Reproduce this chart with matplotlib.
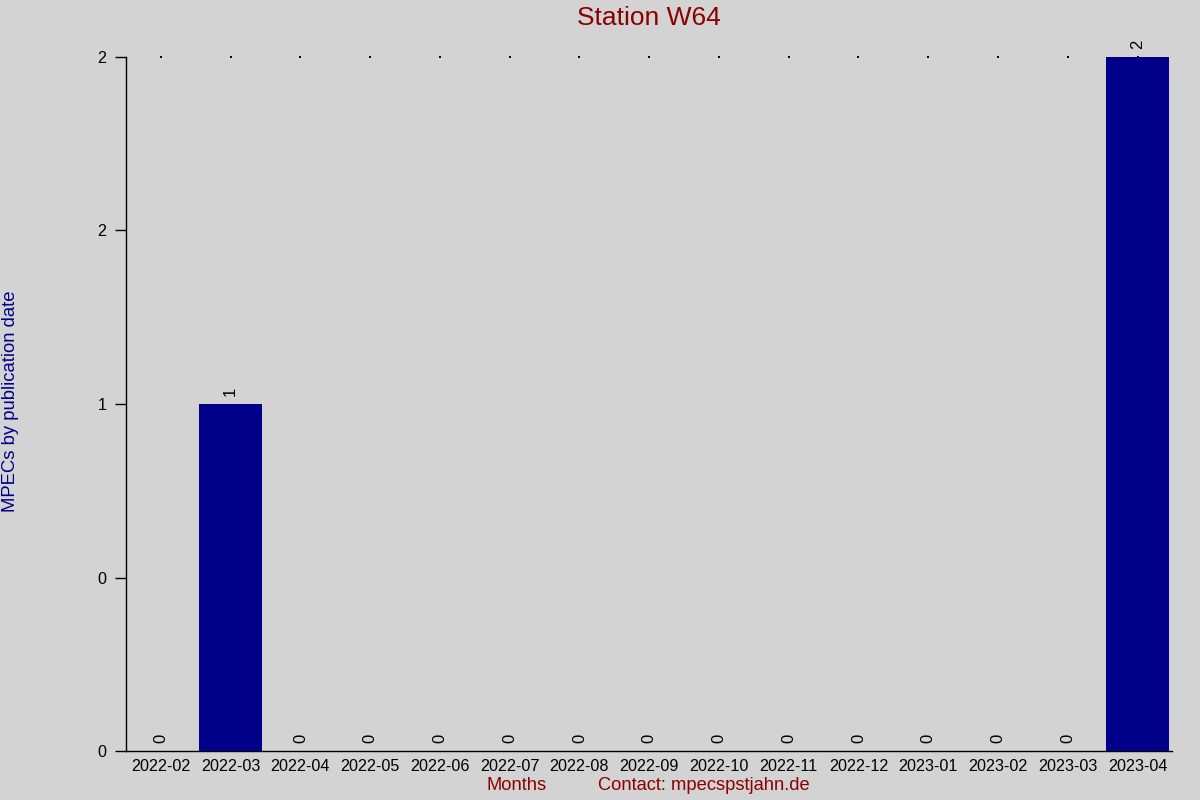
import matplotlib
matplotlib.use("Agg")
import matplotlib.pyplot as plt

months = ["2022-02", "2022-03", "2022-04", "2022-05", "2022-06", "2022-07", "2022-08",
          "2022-09", "2022-10", "2022-11", "2022-12", "2023-01", "2023-02", "2023-03", "2023-04"]
counts = [0, 1, 0, 0, 0, 0, 0, 0, 0, 0, 0, 0, 0, 0, 2]
ytick_vals = [0, 0.5, 1, 1.5, 2]
ytick_labels = ["0", "0", "1", "2", "2"]

plt.rcParams['font.family'] = ['Liberation Sans', 'DejaVu Sans']
bg = "#d3d3d3"
fig = plt.figure(figsize=(12, 8), dpi=100, facecolor=bg)
ax = fig.add_axes([0.105, 0.06125, 0.872, 0.8675], facecolor=bg)

x = list(range(len(months)))
ax.bar(x, counts, width=0.91, color="#000088", zorder=3)
ymax = max(counts)
ax.scatter(x, [ymax] * len(x), s=0.8, color="black", marker="s", linewidths=0, zorder=2, clip_on=False)
for xi, v in zip(x, counts):
    ax.text(xi, v + 0.022, str(v), rotation=90, ha="center", va="bottom", fontsize=12, color="black")

ax.set_xlim(-0.5, len(months) - 0.5)
ax.set_ylim(0, ymax)
ax.set_xticks(x)
ax.set_xticklabels(months, fontsize=11.6)
ax.tick_params(axis="x", length=0, pad=6)
ax.set_yticks(ytick_vals)
ax.set_yticklabels(ytick_labels, fontsize=11.6)
ax.tick_params(axis="y", length=8, width=1, pad=6, direction="out")
for s in ["top", "right"]:
    ax.spines[s].set_visible(False)
for s in ["left", "bottom"]:
    ax.spines[s].set_linewidth(1)
    ax.spines[s].set_color("black")

fig.text(0.5405, 0.977, "Station W64", ha="center", va="center", fontsize=19, color="#8b0000")
fig.text(0.4308, 0.0175, "Months", ha="center", va="center", fontsize=13.2, color="#8b0000")
fig.text(0.5867, 0.0175, "Contact: mpecspstjahn.de", ha="center", va="center", fontsize=13.2, color="#8b0000")
fig.text(0.009, 0.498, "MPECs by publication date", rotation=90, ha="center", va="center",
         fontsize=13.3, color="#000088")

fig.savefig("out.png", dpi=100, facecolor=bg)
